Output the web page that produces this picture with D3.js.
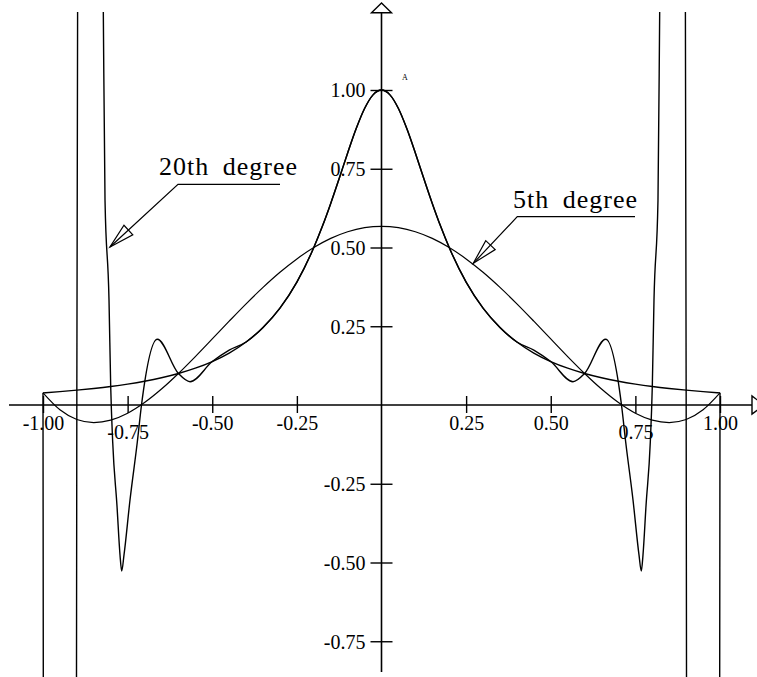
<!DOCTYPE html>
<html>
<head>
<meta charset="utf-8">
<script src="https://cdn.jsdelivr.net/npm/d3@7/dist/d3.min.js"></script>
<style>
  html, body { margin: 0; padding: 0; background: #fff; }
  svg { display: block; }
  text { font-family: "Liberation Serif", "Times New Roman", serif; fill: #000; }
</style>
</head>
<body>
<svg id="chart" width="757" height="677"></svg>
<script>
// ---------------- data ----------------
const xTickValues = [-1, -0.75, -0.5, -0.25, 0.25, 0.5, 0.75, 1];
const xTickLabels = ["-1.00", "-0.75", "-0.50", "-0.25", "0.25", "0.50", "0.75", "1.00"];
const yTickValues = [1, 0.75, 0.5, 0.25, -0.25, -0.5, -0.75];
const yTickLabels = ["1.00", "0.75", "0.50", "0.25", "-0.25", "-0.50", "-0.75"];

// the function itself
const rungeCurve = [
  [-1.000, 0.0385], [-0.950, 0.0424], [-0.900, 0.0471], [-0.850, 0.0525], [-0.800, 0.0588],
  [-0.750, 0.0664], [-0.700, 0.0755], [-0.650, 0.0865], [-0.600, 0.1000], [-0.550, 0.1168],
  [-0.500, 0.1379], [-0.450, 0.1649], [-0.400, 0.2000], [-0.350, 0.2462], [-0.300, 0.3077],
  [-0.250, 0.3902], [-0.200, 0.5000], [-0.175, 0.5664], [-0.150, 0.6400], [-0.125, 0.7191],
  [-0.100, 0.8000], [-0.075, 0.8767], [-0.050, 0.9412], [-0.025, 0.9846], [0.000, 1.0000],
  [0.025, 0.9846], [0.050, 0.9412], [0.075, 0.8767], [0.100, 0.8000], [0.125, 0.7191],
  [0.150, 0.6400], [0.175, 0.5664], [0.200, 0.5000], [0.250, 0.3902], [0.300, 0.3077],
  [0.350, 0.2462], [0.400, 0.2000], [0.450, 0.1649], [0.500, 0.1379], [0.550, 0.1168],
  [0.600, 0.1000], [0.650, 0.0865], [0.700, 0.0755], [0.750, 0.0664], [0.800, 0.0588],
  [0.850, 0.0525], [0.900, 0.0471], [0.950, 0.0424], [1.000, 0.0385]
];

// 5th degree curve
const degree5Curve = [
  [-1.00, 0.0385], [-0.95, -0.0152], [-0.90, -0.0460], [-0.85, -0.0558], [-0.80, -0.0480],
  [-0.75, -0.0260], [-0.70, 0.0078], [-0.65, 0.0506], [-0.60, 0.1000], [-0.55, 0.1537],
  [-0.50, 0.2097], [-0.45, 0.2661], [-0.40, 0.3212], [-0.35, 0.3733], [-0.30, 0.4213],
  [-0.25, 0.4638], [-0.20, 0.5000], [-0.15, 0.5290], [-0.10, 0.5501], [-0.05, 0.5630],
  [0.00, 0.5673], [0.05, 0.5630], [0.10, 0.5501], [0.15, 0.5290], [0.20, 0.5000],
  [0.25, 0.4638], [0.30, 0.4213], [0.35, 0.3733], [0.40, 0.3212], [0.45, 0.2661],
  [0.50, 0.2097], [0.55, 0.1537], [0.60, 0.1000], [0.65, 0.0506], [0.70, 0.0078],
  [0.75, -0.0260], [0.80, -0.0480], [0.85, -0.0558], [0.90, -0.0460], [0.95, -0.0152],
  [1.00, 0.0385]
];

// 20th degree curve (runs far off the chart near both ends)
const degree20Curve = [
  [-1.0000, 0.0385], [-0.9990, -1.0], [-0.9600, -58.0], [-0.9012, -1.0], [-0.9000, 0.0471],
  [-0.8975, 1.4], [-0.8650, 6.0], [-0.8222, 1.30], [-0.8168, 0.650], [-0.8050, 0.333],
  [-0.8000, 0.0588], [-0.7941, -0.1175], [-0.7814, -0.3206], [-0.7725, -0.476], [-0.7675, -0.527],
  [-0.7607, -0.476], [-0.7430, -0.3016], [-0.7214, -0.1175], [-0.7090, 0.000], [-0.6623, 0.2086],
  [-0.6000, 0.1000], [-0.5657, 0.0740], [-0.5000, 0.1379], [-0.4500, 0.1745], [-0.4000, 0.2000],
  [-0.350, 0.2462], [-0.300, 0.3077], [-0.250, 0.3902], [-0.200, 0.5000], [-0.175, 0.5664],
  [-0.150, 0.6400], [-0.125, 0.7191], [-0.100, 0.8000], [-0.075, 0.8767], [-0.050, 0.9412],
  [-0.025, 0.9846], [0.000, 1.0000], [0.025, 0.9846], [0.050, 0.9412], [0.075, 0.8767],
  [0.100, 0.8000], [0.125, 0.7191], [0.150, 0.6400], [0.175, 0.5664], [0.200, 0.5000],
  [0.250, 0.3902], [0.300, 0.3077], [0.350, 0.2462], [0.400, 0.2000],
  [0.4500, 0.1745], [0.5000, 0.1379], [0.5657, 0.0740], [0.6000, 0.1000], [0.6623, 0.2086],
  [0.7090, 0.000], [0.7214, -0.1175], [0.7430, -0.3016], [0.7607, -0.476], [0.7675, -0.527],
  [0.7725, -0.476], [0.7814, -0.3206], [0.7941, -0.1175], [0.8000, 0.0588], [0.8050, 0.333],
  [0.8168, 0.650], [0.8222, 1.30], [0.8650, 6.0], [0.8975, 1.4], [0.9000, 0.0471],
  [0.9012, -1.0], [0.9600, -58.0], [0.9990, -1.0], [1.0000, 0.0385]
];

const annotations = [
  { text: "20th degree", tx: 159, ty: 175, line: [[280, 184.3], [178, 184.3], [110, 247]] },
  { text: "5th degree", tx: 513, ty: 208, line: [[635, 216.7], [517.3, 216.7], [473.3, 263.3]] }
];

// ---------------- drawing ----------------
const svg = d3.select("#chart");
const W = 757, H = 677;
const SERIF = "'Liberation Serif', 'Times New Roman', serif";

const x = d3.scaleLinear().domain([-1, 1]).range([43, 720]);
const y = d3.scaleLinear().domain([0, 1]).range([405, 90]);

svg.append("rect").attr("width", W).attr("height", H).attr("fill", "#fff");

// clip region for curves
svg.append("defs").append("clipPath").attr("id", "plotClip")
  .append("rect").attr("x", 0).attr("y", 12).attr("width", W).attr("height", H - 12);

// x axis line with arrow
svg.append("line").attr("x1", 9).attr("x2", 752).attr("y1", y(0)).attr("y2", y(0))
  .attr("stroke", "#000").attr("stroke-width", 1.6);
svg.append("polygon")
  .attr("points", `752,${y(0) - 9} 752,${y(0) + 9} 764,${y(0)}`)
  .attr("fill", "#fff").attr("stroke", "#000").attr("stroke-width", 1.4);

// y axis line with arrow
svg.append("line").attr("x1", x(0)).attr("x2", x(0)).attr("y1", 12.7).attr("y2", 672)
  .attr("stroke", "#000").attr("stroke-width", 1.6);
svg.append("polygon")
  .attr("points", `${x(0)},3 ${x(0) - 10},12.7 ${x(0) + 10},12.7`)
  .attr("fill", "#fff").attr("stroke", "#000").attr("stroke-width", 1.4);

// x axis ticks + labels
const xAxis = d3.axisBottom(x)
  .tickValues(xTickValues)
  .tickFormat((d, i) => xTickLabels[i])
  .tickSizeOuter(0)
  .tickSize(8);
const gx = svg.append("g").attr("transform", `translate(0,${y(0)})`).call(xAxis);
gx.attr("font-family", SERIF);
gx.select(".domain").remove();
gx.selectAll(".tick line").attr("y1", -9).attr("y2", 8).attr("stroke", "#000").attr("stroke-width", 1.4);
gx.selectAll(".tick text")
  .attr("fill", "#000")
  .attr("font-size", 20)
  .attr("font-family", SERIF)
  .attr("dy", 0)
  .attr("y", d => (Math.abs(d) === 0.75 ? 34 : 25));

// y axis ticks + labels
const yAxis = d3.axisLeft(y)
  .tickValues(yTickValues)
  .tickFormat((d, i) => yTickLabels[i])
  .tickSizeOuter(0)
  .tickSize(11);
const gy = svg.append("g").attr("transform", `translate(${x(0)},0)`).call(yAxis);
gy.attr("font-family", SERIF);
gy.select(".domain").remove();
gy.selectAll(".tick line").attr("x1", -11).attr("x2", 11).attr("stroke", "#000").attr("stroke-width", 1.4);
gy.selectAll(".tick text")
  .attr("fill", "#000")
  .attr("font-size", 20)
  .attr("font-family", SERIF)
  .attr("x", -16)
  .attr("dy", "0.34em");

// curves
const lineGen = d3.line()
  .x(d => x(d[0]))
  .y(d => y(d[1]))
  .curve(d3.curveMonotoneX);

const curves = svg.append("g").attr("clip-path", "url(#plotClip)");
[rungeCurve, degree5Curve, degree20Curve].forEach((data, i) => {
  curves.append("path")
    .datum(data)
    .attr("d", lineGen)
    .attr("fill", "none")
    .attr("stroke", "#000")
    .attr("stroke-width", i === 1 ? 1.2 : 1.4)
    .attr("stroke-linejoin", "round");
});

// annotations
annotations.forEach(a => {
  svg.append("text")
    .attr("x", a.tx).attr("y", a.ty)
    .attr("font-family", SERIF)
    .attr("font-size", 26)
    .attr("letter-spacing", 1)
    .attr("word-spacing", 6)
    .text(a.text);
  svg.append("path")
    .attr("d", d3.line()(a.line))
    .attr("fill", "none").attr("stroke", "#000").attr("stroke-width", 1.2);
  // open arrow head at the last point
  const tip = a.line[a.line.length - 1];
  const prev = a.line[a.line.length - 2];
  const dx = prev[0] - tip[0], dy = prev[1] - tip[1];
  const len = Math.hypot(dx, dy);
  const ux = dx / len, uy = dy / len;
  const L = 25, hw = 6.5;
  const bx = tip[0] + ux * L, by = tip[1] + uy * L;
  const p1 = [bx - uy * hw, by + ux * hw];
  const p2 = [bx + uy * hw, by - ux * hw];
  svg.append("polygon")
    .attr("points", [tip, p1, p2].map(p => p.join(",")).join(" "))
    .attr("fill", "none").attr("stroke", "#000").attr("stroke-width", 1.2);
});

// tiny stray mark near the top of the vertical axis
svg.append("text").attr("x", 402).attr("y", 80).attr("font-family", SERIF)
  .attr("font-size", 8).attr("fill", "#444").text("A");
</script>
</body>
</html>
